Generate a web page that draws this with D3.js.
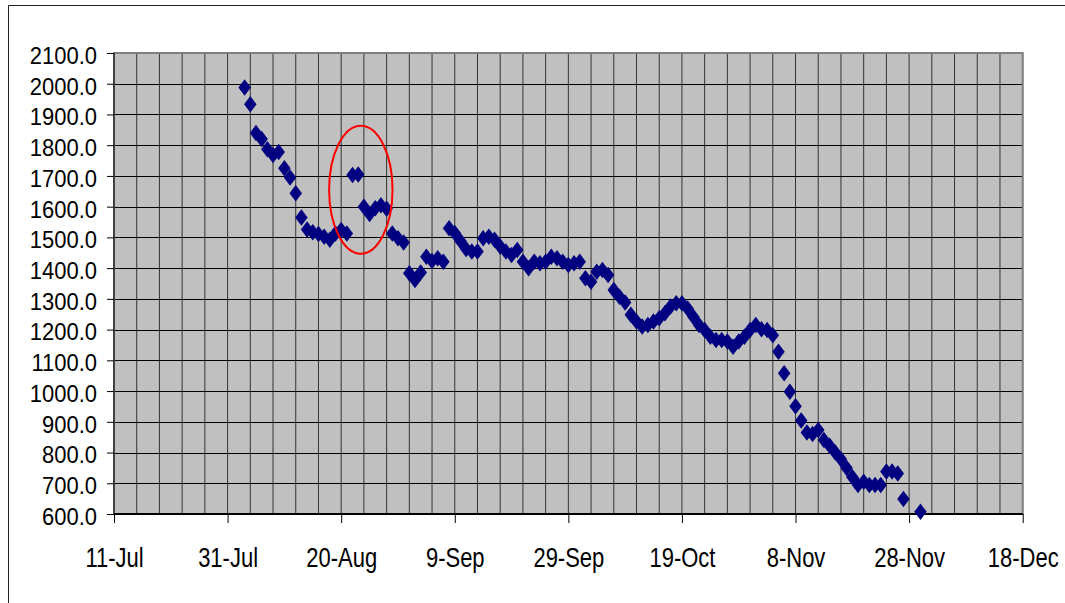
<!DOCTYPE html>
<html>
<head>
<meta charset="utf-8">
<script src="https://cdn.jsdelivr.net/npm/d3@7"></script>
<style>
  html, body { margin: 0; padding: 0; background: #ffffff; }
  svg { display: block; }
</style>
</head>
<body>
<svg id="chart" width="1065" height="603"></svg>
<script>
// Daily readings, 3 Aug – 30 Nov
const year = 2008;

const dates = [
  "08-03","08-04","08-05","08-06","08-07","08-08","08-09","08-10","08-11","08-12",
  "08-13","08-14","08-15","08-16","08-17","08-18","08-19","08-20","08-21","08-22",
  "08-23","08-24","08-25","08-26","08-27","08-28","08-29","08-30","08-31",
  "09-01","09-02","09-03","09-04","09-05","09-06","09-07","09-08","09-09","09-10",
  "09-11","09-12","09-13","09-14","09-15","09-16","09-17","09-18","09-19","09-20",
  "09-21","09-22","09-23","09-24","09-25","09-26","09-27","09-28","09-29","09-30",
  "10-01","10-02","10-03","10-04","10-05","10-06","10-07","10-08","10-09","10-10",
  "10-11","10-12","10-13","10-14","10-15","10-16","10-17","10-18","10-19","10-20",
  "10-21","10-22","10-23","10-24","10-25","10-26","10-27","10-28","10-29","10-30","10-31",
  "11-01","11-02","11-03","11-04","11-05","11-06","11-07","11-08","11-09","11-10",
  "11-11","11-12","11-13","11-14","11-15","11-16","11-17","11-18","11-19","11-20",
  "11-21","11-22","11-23","11-24","11-25","11-26","11-27","11-30"
];

const values = [
  1988, 1933, 1840, 1820, 1787, 1768, 1778, 1725, 1695, 1644,
  1565, 1526, 1517, 1511, 1502, 1492, 1513, 1524, 1513, 1703,
  1705, 1600, 1576, 1595, 1605, 1593, 1513, 1497, 1483,
  1383, 1361, 1386, 1437, 1423, 1432, 1421, 1530, 1514, 1488,
  1462, 1454, 1454, 1497, 1502, 1492, 1470, 1454, 1443, 1459,
  1421, 1400, 1421, 1416, 1421, 1437, 1432, 1421, 1410, 1416,
  1421, 1367, 1356, 1388, 1394, 1378, 1329, 1307, 1288, 1248,
  1226, 1210, 1215, 1226, 1237, 1253, 1275, 1286, 1286, 1269,
  1242, 1215, 1199, 1177, 1166, 1166, 1161, 1144, 1161, 1177, 1199,
  1215, 1201, 1199, 1182, 1128, 1058, 998, 951, 904, 865,
  860, 873, 841, 822, 800, 778, 750, 720, 694, 705,
  694, 694, 694, 738, 738, 732, 649, 607
];

const xTickDates = ["07-11","07-31","08-20","09-09","09-29","10-19","11-08","11-28","12-18"];
const yTicks = [600, 700, 800, 900, 1000, 1100, 1200, 1300, 1400, 1500, 1600, 1700, 1800, 1900, 2000, 2100];

// Circled pair of readings (22–23 Aug)
const highlightCentre = { date: "08-23", hour: 11, value: 1655 };
const highlightHalfDays = 5.6;
const highlightHalfValue = 208;

const parse = d3.utcParse("%Y-%m-%d");
const toDate = s => parse(year + "-" + s);

const svg = d3.select("#chart");
const fontFamily = "'Liberation Sans', Arial, sans-serif";

// outer chart frame
svg.append("path")
  .attr("d", "M8.5,603 L8.5,5.5 L1065,5.5")
  .attr("fill", "none")
  .attr("stroke", "#222")
  .attr("stroke-width", 1);

const plot = { left: 114, right: 1022.7, top: 53, bottom: 514 };

const x = d3.scaleUtc()
  .domain([toDate(xTickDates[0]), toDate(xTickDates[xTickDates.length - 1])])
  .range([plot.left, plot.right]);

const y = d3.scaleLinear()
  .domain([yTicks[0], yTicks[yTicks.length - 1]])
  .range([plot.bottom, plot.top]);

// plot area background
svg.append("rect")
  .attr("x", plot.left).attr("y", plot.top)
  .attr("width", plot.right - plot.left)
  .attr("height", plot.bottom - plot.top)
  .attr("fill", "#c0c0c0");

// vertical gridlines every 4 days
const start = x.domain()[0], end = x.domain()[1];
const gridDays = d3.range(0, d3.utcDay.count(start, end) + 1, 4).map(i => d3.utcDay.offset(start, i));
svg.append("g").selectAll("line").data(gridDays).join("line")
  .attr("x1", d => x(d)).attr("x2", d => x(d))
  .attr("y1", plot.top).attr("y2", plot.bottom)
  .attr("stroke", "#333").attr("stroke-width", 1);

// horizontal gridlines at each y tick
svg.append("g").selectAll("line").data(yTicks).join("line")
  .attr("x1", plot.left).attr("x2", plot.right)
  .attr("y1", d => Math.round(y(d)) + 0.5).attr("y2", d => Math.round(y(d)) + 0.5)
  .attr("stroke", "#000").attr("stroke-width", 1);

// plot border
svg.append("rect")
  .attr("x", plot.left).attr("y", plot.top)
  .attr("width", plot.right - plot.left)
  .attr("height", plot.bottom - plot.top)
  .attr("fill", "none")
  .attr("stroke", "#808080").attr("stroke-width", 2);

// y axis
const yAxis = svg.append("g")
  .attr("transform", `translate(${plot.left},0)`)
  .call(d3.axisLeft(y).tickValues(yTicks).tickFormat(d3.format(".1f")).tickSize(7).tickPadding(10));
yAxis.select(".domain").remove();
yAxis.selectAll(".tick line").attr("stroke", "#000");
yAxis.selectAll(".tick text")
  .attr("fill", "#000")
  .attr("font-family", fontFamily)
  .attr("font-size", 22)
  .attr("dy", "0.42em")
  .attr("transform", "scale(1,1.12)");

// x axis
const xAxis = svg.append("g")
  .attr("transform", `translate(0,${plot.bottom})`)
  .call(d3.axisBottom(x).tickValues(xTickDates.map(toDate)).tickFormat(d3.utcFormat("%-d-%b")).tickSize(9));
xAxis.select(".domain").remove();
xAxis.selectAll(".tick line").attr("stroke", "#000");
xAxis.selectAll(".tick text")
  .attr("fill", "#000")
  .attr("font-family", fontFamily)
  .attr("font-size", 22)
  .attr("y", 0).attr("dy", 0)
  .attr("transform", "translate(0,53) scale(1,1.29)");

// axis lines
svg.append("line")
  .attr("x1", plot.left).attr("x2", plot.left)
  .attr("y1", plot.top).attr("y2", plot.bottom)
  .attr("stroke", "#000").attr("stroke-width", 1);
svg.append("line")
  .attr("x1", plot.left).attr("x2", plot.right)
  .attr("y1", plot.bottom).attr("y2", plot.bottom)
  .attr("stroke", "#000").attr("stroke-width", 2);

// diamond markers
const diamond = "M0,-8.25L6.25,0L0,8.25L-6.25,0Z";
const points = dates.map((d, i) => ({ date: toDate(d), value: values[i] }));
svg.append("g").selectAll("path").data(points).join("path")
  .attr("d", diamond)
  .attr("transform", d => `translate(${x(d.date)},${y(d.value)})`)
  .attr("fill", "#000080");

// red ellipse around the spike
const hc = d3.utcHour.offset(toDate(highlightCentre.date), highlightCentre.hour);
const cx = x(hc), cy = y(highlightCentre.value);
svg.append("ellipse")
  .attr("cx", cx).attr("cy", cy)
  .attr("rx", x(d3.utcHour.offset(hc, highlightHalfDays * 24)) - cx)
  .attr("ry", cy - y(highlightCentre.value + highlightHalfValue))
  .attr("fill", "none")
  .attr("stroke", "#ff0000").attr("stroke-width", 2);
</script>
</body>
</html>
